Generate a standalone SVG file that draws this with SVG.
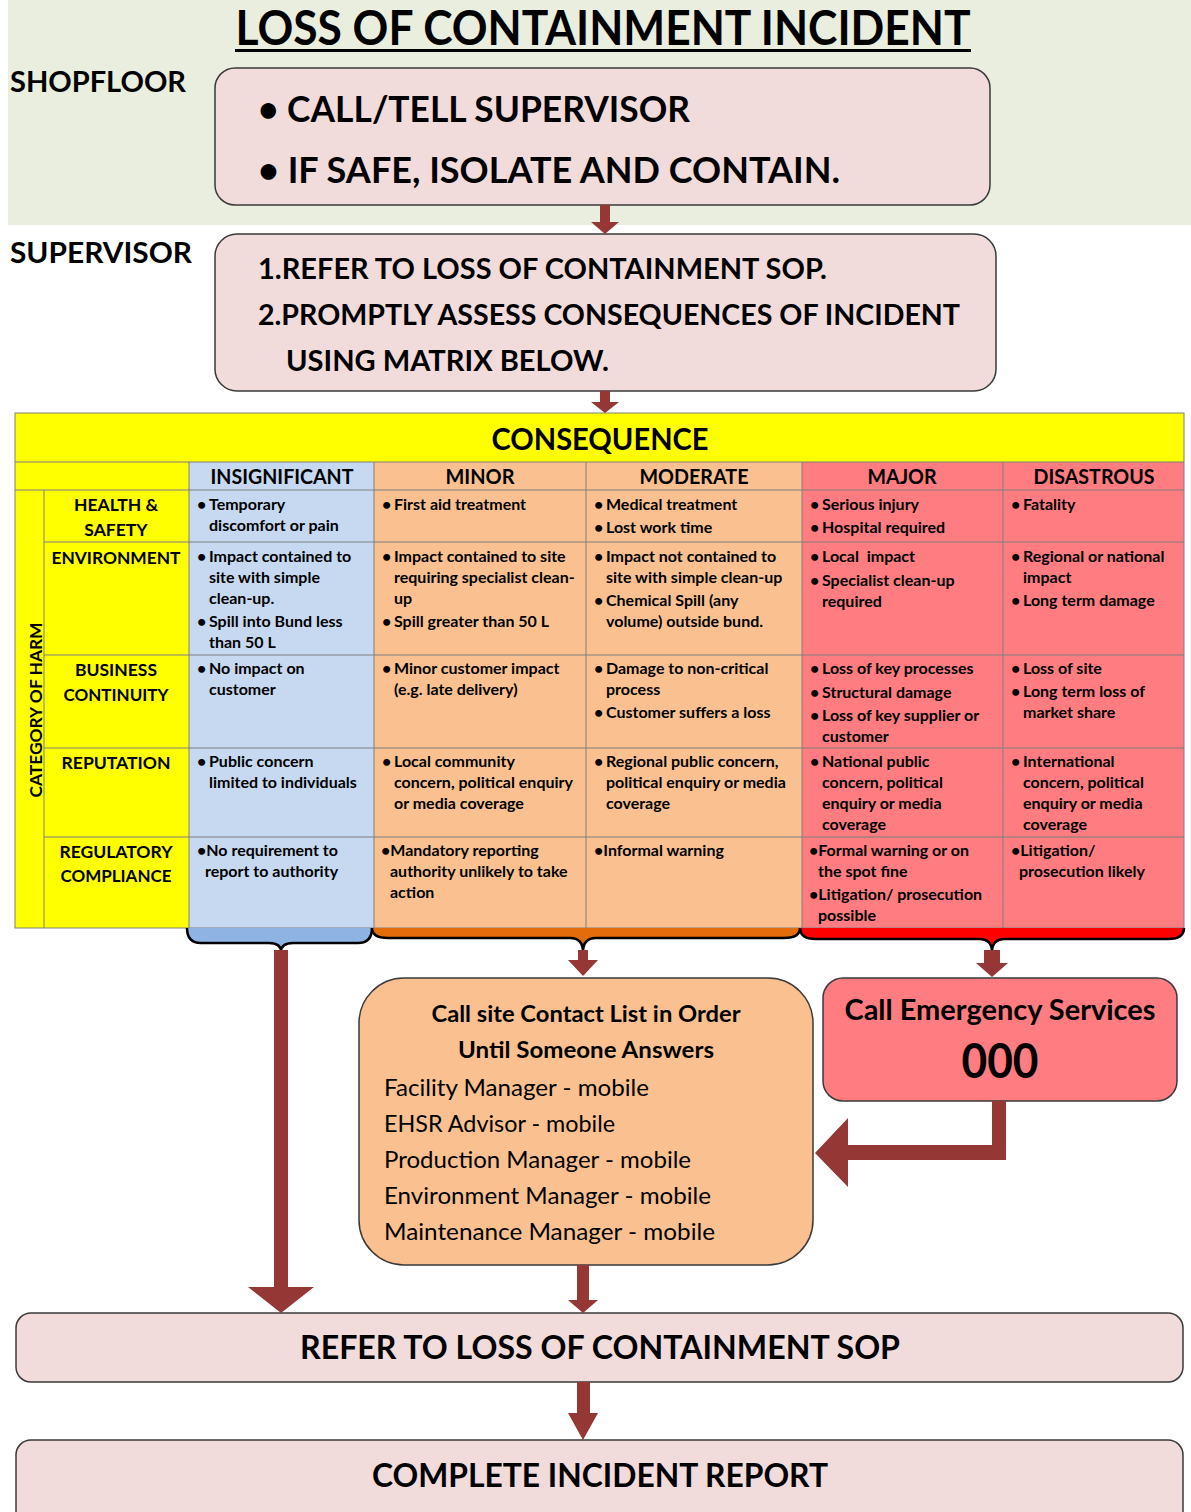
<svg xmlns="http://www.w3.org/2000/svg" width="1191" height="1512" viewBox="0 0 1191 1512">
<style>
text{font-family:Lato,"Open Sans","Liberation Sans",sans-serif;font-weight:700;fill:#000}
.box{fill:#F2DCDB;stroke:#3a3a3a;stroke-width:1.5}
.lane{font-size:29px}
.cell{font-size:16px}
.cat{font-size:17.5px}
.hdr{font-size:20px}
.mid{text-anchor:middle}
.reg{font-weight:400}
.grid{stroke:#7f7f7f;stroke-width:1;fill:none}
.arr{fill:#953735}
.brace{fill:none;stroke:#000;stroke-width:2.5}
</style>

<!-- top band -->
<rect x="8" y="0" width="1183" height="225" fill="#E9EEDE"/>
<g id="title">
<text x="603" y="45" class="mid" font-size="47" textLength="735" lengthAdjust="spacingAndGlyphs">LOSS OF CONTAINMENT INCIDENT</text>
<rect x="235" y="49" width="736" height="3" fill="#000"/>
</g>
<g id="lane-shopfloor"><text x="10" y="92" class="lane" textLength="176" lengthAdjust="spacingAndGlyphs">SHOPFLOOR</text></g>
<g id="lane-supervisor"><text x="10" y="263" class="lane" textLength="182" lengthAdjust="spacingAndGlyphs">SUPERVISOR</text></g>

<g id="shopfloor-box">
<rect class="box" x="215" y="68" width="775" height="137" rx="20"/>
<text x="258" y="122" font-size="37" textLength="432" lengthAdjust="spacingAndGlyphs">• CALL/TELL SUPERVISOR</text>
<text x="258" y="183" font-size="37" textLength="582" lengthAdjust="spacingAndGlyphs">• IF SAFE, ISOLATE AND CONTAIN.</text>
</g>

<g id="supervisor-box">
<rect class="box" x="215" y="234" width="781" height="157" rx="22"/>
<text x="258" y="279" font-size="29" textLength="569" lengthAdjust="spacingAndGlyphs">1.REFER TO LOSS OF CONTAINMENT SOP.</text>
<text x="258" y="325" font-size="29" textLength="702" lengthAdjust="spacingAndGlyphs">2.PROMPTLY ASSESS CONSEQUENCES OF INCIDENT</text>
<text x="286" y="371" font-size="29" textLength="323" lengthAdjust="spacingAndGlyphs">USING MATRIX BELOW.</text>
</g>

<!-- matrix -->
<g id="matrix">
<rect x="15" y="413" width="1169" height="515" fill="#FFFF00"/>
<rect x="189" y="462" width="185" height="466" fill="#C6D9F1"/>
<rect x="374" y="462" width="428" height="466" fill="#FAC090"/>
<rect x="802" y="462" width="382" height="466" fill="#FF7C80"/>
<g class="grid">
<rect x="15" y="413" width="1169" height="515"/>
<line x1="15" y1="462" x2="1184" y2="462"/>
<line x1="15" y1="490" x2="1184" y2="490"/>
<line x1="44" y1="542" x2="1184" y2="542"/>
<line x1="44" y1="655" x2="1184" y2="655"/>
<line x1="44" y1="748" x2="1184" y2="748"/>
<line x1="44" y1="837" x2="1184" y2="837"/>
<line x1="44" y1="490" x2="44" y2="928"/>
<line x1="189" y1="462" x2="189" y2="928"/>
<line x1="374" y1="462" x2="374" y2="928"/>
<line x1="586" y1="462" x2="586" y2="928"/>
<line x1="802" y1="462" x2="802" y2="928"/>
<line x1="1003" y1="462" x2="1003" y2="928"/>
</g>
<text x="600" y="450" class="mid" font-size="30" textLength="217" lengthAdjust="spacingAndGlyphs">CONSEQUENCE</text>
<text x="282" y="484" class="hdr mid" textLength="143" lengthAdjust="spacingAndGlyphs">INSIGNIFICANT</text>
<text x="480" y="484" class="hdr mid" textLength="69" lengthAdjust="spacingAndGlyphs">MINOR</text>
<text x="694" y="484" class="hdr mid" textLength="109" lengthAdjust="spacingAndGlyphs">MODERATE</text>
<text x="902" y="484" class="hdr mid" textLength="69" lengthAdjust="spacingAndGlyphs">MAJOR</text>
<text x="1094" y="484" class="hdr mid" textLength="121" lengthAdjust="spacingAndGlyphs">DISASTROUS</text>
<text transform="translate(42,710) rotate(-90)" class="mid" font-size="17" textLength="175" lengthAdjust="spacingAndGlyphs">CATEGORY OF HARM</text>

<g class="cat">
<text x="116" y="511" class="cat mid">HEALTH &amp;</text>
<text x="116" y="536" class="cat mid">SAFETY</text>
<text x="116" y="564" class="cat mid" textLength="129" lengthAdjust="spacingAndGlyphs">ENVIRONMENT</text>
<text x="116" y="676" class="cat mid">BUSINESS</text>
<text x="116" y="701" class="cat mid" textLength="105" lengthAdjust="spacingAndGlyphs">CONTINUITY</text>
<text x="116" y="769" class="cat mid" textLength="109" lengthAdjust="spacingAndGlyphs">REPUTATION</text>
<text x="116" y="858" class="cat mid" textLength="113" lengthAdjust="spacingAndGlyphs">REGULATORY</text>
<text x="116" y="882" class="cat mid" textLength="111" lengthAdjust="spacingAndGlyphs">COMPLIANCE</text>
</g>

<g class="cell">
<!-- Health & Safety -->
<text x="197" y="510" class="cell">•</text><text x="209" y="510" class="cell">Temporary</text>
<text x="209" y="531" class="cell">discomfort or pain</text>
<text x="382" y="510" class="cell">•</text><text x="394" y="510" class="cell">First aid treatment</text>
<text x="594" y="510" class="cell">•</text><text x="606" y="510" class="cell">Medical treatment</text>
<text x="594" y="533" class="cell">•</text><text x="606" y="533" class="cell">Lost work time</text>
<text x="810" y="510" class="cell">•</text><text x="822" y="510" class="cell">Serious injury</text>
<text x="810" y="533" class="cell">•</text><text x="822" y="533" class="cell">Hospital required</text>
<text x="1011" y="510" class="cell">•</text><text x="1023" y="510" class="cell">Fatality</text>
<!-- Environment -->
<text x="197" y="562" class="cell">•</text><text x="209" y="562" class="cell">Impact contained to</text>
<text x="209" y="583" class="cell">site with simple</text>
<text x="209" y="604" class="cell">clean-up.</text>
<text x="197" y="627" class="cell">•</text><text x="209" y="627" class="cell">Spill into Bund less</text>
<text x="209" y="648" class="cell">than 50 L</text>
<text x="382" y="562" class="cell">•</text><text x="394" y="562" class="cell">Impact contained to site</text>
<text x="394" y="583" class="cell">requiring specialist clean-</text>
<text x="394" y="604" class="cell">up</text>
<text x="382" y="627" class="cell">•</text><text x="394" y="627" class="cell">Spill greater than 50 L</text>
<text x="594" y="562" class="cell">•</text><text x="606" y="562" class="cell">Impact not contained to</text>
<text x="606" y="583" class="cell">site with simple clean-up</text>
<text x="594" y="606" class="cell">•</text><text x="606" y="606" class="cell">Chemical Spill (any</text>
<text x="606" y="627" class="cell">volume) outside bund.</text>
<text x="810" y="562" class="cell">•</text><text x="822" y="562" class="cell" xml:space="preserve">Local  impact</text>
<text x="810" y="586" class="cell">•</text><text x="822" y="586" class="cell">Specialist clean-up</text>
<text x="822" y="607" class="cell">required</text>
<text x="1011" y="562" class="cell">•</text><text x="1023" y="562" class="cell">Regional or national</text>
<text x="1023" y="583" class="cell">impact</text>
<text x="1011" y="606" class="cell">•</text><text x="1023" y="606" class="cell">Long term damage</text>
<!-- Business continuity -->
<text x="197" y="674" class="cell">•</text><text x="209" y="674" class="cell">No impact on</text>
<text x="209" y="695" class="cell">customer</text>
<text x="382" y="674" class="cell">•</text><text x="394" y="674" class="cell">Minor customer impact</text>
<text x="394" y="695" class="cell">(e.g. late delivery)</text>
<text x="594" y="674" class="cell">•</text><text x="606" y="674" class="cell">Damage to non-critical</text>
<text x="606" y="695" class="cell">process</text>
<text x="594" y="718" class="cell">•</text><text x="606" y="718" class="cell">Customer suffers a loss</text>
<text x="810" y="674" class="cell">•</text><text x="822" y="674" class="cell">Loss of key processes</text>
<text x="810" y="698" class="cell">•</text><text x="822" y="698" class="cell">Structural damage</text>
<text x="810" y="721" class="cell">•</text><text x="822" y="721" class="cell">Loss of key supplier or</text>
<text x="822" y="742" class="cell">customer</text>
<text x="1011" y="674" class="cell">•</text><text x="1023" y="674" class="cell">Loss of site</text>
<text x="1011" y="697" class="cell">•</text><text x="1023" y="697" class="cell">Long term loss of</text>
<text x="1023" y="718" class="cell">market share</text>
<!-- Reputation -->
<text x="197" y="767" class="cell">•</text><text x="209" y="767" class="cell">Public concern</text>
<text x="209" y="788" class="cell">limited to individuals</text>
<text x="382" y="767" class="cell">•</text><text x="394" y="767" class="cell">Local community</text>
<text x="394" y="788" class="cell">concern, political enquiry</text>
<text x="394" y="809" class="cell">or media coverage</text>
<text x="594" y="767" class="cell">•</text><text x="606" y="767" class="cell">Regional public concern,</text>
<text x="606" y="788" class="cell">political enquiry or media</text>
<text x="606" y="809" class="cell">coverage</text>
<text x="810" y="767" class="cell">•</text><text x="822" y="767" class="cell">National public</text>
<text x="822" y="788" class="cell">concern, political</text>
<text x="822" y="809" class="cell">enquiry or media</text>
<text x="822" y="830" class="cell">coverage</text>
<text x="1011" y="767" class="cell">•</text><text x="1023" y="767" class="cell">International</text>
<text x="1023" y="788" class="cell">concern, political</text>
<text x="1023" y="809" class="cell">enquiry or media</text>
<text x="1023" y="830" class="cell">coverage</text>
<!-- Regulatory -->
<text x="197" y="856" class="cell">•No requirement to</text>
<text x="205" y="877" class="cell">report to authority</text>
<text x="381" y="856" class="cell">•Mandatory reporting</text>
<text x="390" y="877" class="cell">authority unlikely to take</text>
<text x="390" y="898" class="cell">action</text>
<text x="594" y="856" class="cell">•Informal warning</text>
<text x="809" y="856" class="cell">•Formal warning or on</text>
<text x="818" y="877" class="cell">the spot fine</text>
<text x="809" y="900" class="cell">•Litigation/ prosecution</text>
<text x="818" y="921" class="cell">possible</text>
<text x="1011" y="856" class="cell">•Litigation/</text>
<text x="1019" y="877" class="cell">prosecution likely</text>
</g>
</g>

<!-- braces -->
<g id="braces">
<path d="M187,928 Q187,943 201,943 L269,943 Q281,943 281,952 Q281,943 293,943 L358,943 Q372,943 372,928 Z" fill="#8DB4E2"/>
<path class="brace" d="M187,928 Q187,943 201,943 L269,943 Q281,943 281,952 Q281,943 293,943 L358,943 Q372,943 372,928"/>
<path d="M372,928 Q372,938 388,938 L570,938 Q583,938 583,952 Q583,938 596,938 L784,938 Q800,938 800,928 Z" fill="#E46C0A"/>
<path class="brace" d="M372,928 Q372,938 388,938 L570,938 Q583,938 583,952 Q583,938 596,938 L784,938 Q800,938 800,928"/>
<path d="M800,928 Q800,939 816,939 L979,939 Q992,939 992,952 Q992,939 1005,939 L1168,939 Q1184,939 1184,928 Z" fill="#FF0000"/>
<path class="brace" d="M800,928 Q800,939 816,939 L979,939 Q992,939 992,952 Q992,939 1005,939 L1168,939 Q1184,939 1184,928"/>
</g>

<g id="contact-list">
<rect x="359" y="978" width="454" height="287" rx="45" fill="#FAC090" stroke="#3a3a3a" stroke-width="1.5"/>
<text x="586" y="1022" class="mid" font-size="23" textLength="309" lengthAdjust="spacingAndGlyphs">Call site Contact List in Order</text>
<text x="586" y="1058" class="mid" font-size="23" textLength="256" lengthAdjust="spacingAndGlyphs">Until Someone Answers</text>
<text x="384" y="1096" class="reg" font-size="24" textLength="265" lengthAdjust="spacingAndGlyphs">Facility Manager - mobile</text>
<text x="384" y="1132" class="reg" font-size="24" textLength="231" lengthAdjust="spacingAndGlyphs">EHSR Advisor - mobile</text>
<text x="384" y="1168" class="reg" font-size="24" textLength="307" lengthAdjust="spacingAndGlyphs">Production Manager - mobile</text>
<text x="384" y="1204" class="reg" font-size="24" textLength="327" lengthAdjust="spacingAndGlyphs">Environment Manager - mobile</text>
<text x="384" y="1240" class="reg" font-size="24" textLength="331" lengthAdjust="spacingAndGlyphs">Maintenance Manager - mobile</text>
</g>

<g id="emergency">
<rect x="823" y="978" width="354" height="123" rx="20" fill="#FF7C80" stroke="#3a3a3a" stroke-width="1.5"/>
<text x="1000" y="1020" class="mid" font-size="28" textLength="311" lengthAdjust="spacingAndGlyphs">Call Emergency Services</text>
<text x="1000" y="1078" class="mid" font-size="48" textLength="77" lengthAdjust="spacingAndGlyphs">000</text>
</g>

<g id="refer-sop">
<rect class="box" x="16" y="1313" width="1167" height="69" rx="15"/>
<text x="600" y="1359" class="mid" font-size="33" textLength="600" lengthAdjust="spacingAndGlyphs">REFER TO LOSS OF CONTAINMENT SOP</text>
</g>

<g id="incident-report">
<rect class="box" x="16" y="1440" width="1167" height="90" rx="15"/>
<text x="600" y="1487" class="mid" font-size="33" textLength="456" lengthAdjust="spacingAndGlyphs">COMPLETE INCIDENT REPORT</text>
</g>

<g id="connectors">
<polygon class="arr" points="600,205 610,205 610,222 619,222 605,234 591,222 600,222"/>
<polygon class="arr" points="600,391 610,391 610,402 619,402 605,413 591,402 600,402"/>
<polygon class="arr" points="578,950 588,950 588,960 598,960 583,976 568,960 578,960"/>
<polygon class="arr" points="984,950 1000,950 1000,963 1008,963 992,977 976,963 984,963"/>
<polygon class="arr" points="274,950 288,950 288,1287 314,1287 281,1313 248,1287 274,1287"/>
<polygon class="arr" points="577,1265 589,1265 589,1300 598,1300 583,1313 568,1300 577,1300"/>
<polygon class="arr" points="577,1382 590,1382 590,1413 598,1413 583,1440 568,1413 577,1413"/>
<polygon class="arr" points="992,1101 1006,1101 1006,1160 848,1160 848,1187 815,1153 848,1118 848,1145 992,1145"/>
</g>
</svg>
